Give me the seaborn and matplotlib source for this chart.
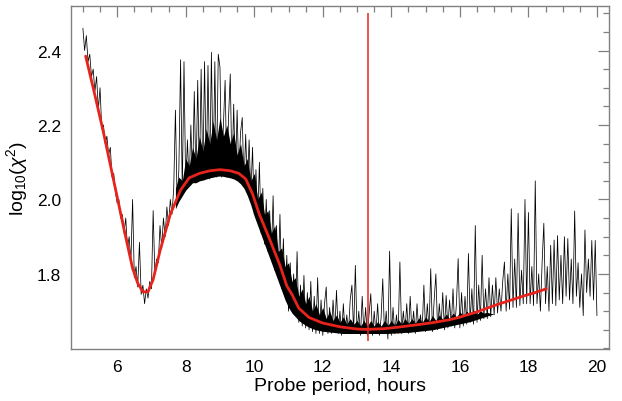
import numpy as np
import pandas as pd
import matplotlib
matplotlib.use("Agg")
import matplotlib.pyplot as plt
import seaborn as sns
from matplotlib.ticker import MultipleLocator

# ---------------- data ----------------
# black (noisy) curve: values on a regular probe-period grid 5.00 .. 20.00 h, step 0.05 h
black_start, black_end = 5.0, 20.0
black_5 = [2.46, 2.40, 2.44, 2.37, 2.39, 2.33, 2.35, 2.29, 2.33, 2.24,
           2.30, 2.19, 2.20, 2.15, 2.17, 2.12, 2.14, 2.06, 2.07, 2.02]
black_6 = [1.99, 2.00, 1.95, 1.96, 1.91, 1.95, 1.87, 1.90, 1.83, 2.00,
           1.79, 1.82, 1.765, 1.885, 1.745, 1.77, 1.72, 1.76, 1.735, 1.78]
black_7 = [1.76, 1.97, 1.80, 1.84, 1.83, 1.93, 1.87, 1.95, 1.90, 1.98,
           1.93, 2.00, 1.96, 2.03, 2.24, 1.99, 2.08, 2.375, 2.02, 2.37]
black_8 = [2.03, 2.16, 2.04, 2.20, 2.05, 2.29, 2.045, 2.32, 2.05, 2.35,
           2.055, 2.37, 2.06, 2.36, 2.055, 2.395, 2.06, 2.37, 2.06, 2.39]
black_9 = [2.355, 2.06, 2.20, 2.32, 2.06, 2.22, 2.337, 2.065, 2.256, 2.06,
           2.24, 2.06, 2.18, 2.22, 2.04, 2.175, 2.03, 2.16, 2.01, 2.14]
black_10 = [1.96, 2.08, 1.94, 2.10, 1.91, 2.03, 1.88, 2.00, 1.86, 1.97,
            1.84, 2.01, 1.81, 1.93, 1.79, 1.96, 1.76, 1.895, 1.74, 1.85]
black_11 = [1.70, 1.83, 1.71, 1.80, 1.69, 1.86, 1.67, 1.77, 1.66, 1.796,
            1.655, 1.75, 1.65, 1.78, 1.645, 1.74, 1.64, 1.79, 1.64, 1.73]
black_12 = [1.635, 1.72, 1.765, 1.64, 1.71, 1.64, 1.73, 1.645, 1.756, 1.64,
            1.70, 1.635, 1.72, 1.64, 1.69, 1.645, 1.73, 1.77, 1.64, 1.823]
black_13 = [1.64, 1.70, 1.635, 1.74, 1.64, 1.71, 1.635, 1.69, 1.747, 1.635,
            1.70, 1.64, 1.72, 1.635, 1.68, 1.787, 1.64, 1.70, 1.625, 1.861]
black_14 = [1.635, 1.71, 1.64, 1.69, 1.64, 1.832, 1.64, 1.70, 1.645, 1.72,
            1.64, 1.74, 1.645, 1.70, 1.64, 1.72, 1.645, 1.69, 1.65, 1.77]
black_15 = [1.645, 1.72, 1.65, 1.814, 1.645, 1.73, 1.80, 1.65, 1.72, 1.655,
            1.75, 1.65, 1.742, 1.655, 1.73, 1.66, 1.76, 1.655, 1.72, 1.841]
black_16 = [1.655, 1.75, 1.66, 1.74, 1.665, 1.855, 1.67, 1.76, 1.665, 1.93,
            1.67, 1.77, 1.675, 1.85, 1.68, 1.76, 1.68, 1.79, 1.685, 1.77]
black_17 = [1.69, 1.79, 1.695, 1.76, 1.70, 1.78, 1.832, 1.70, 1.80, 1.705,
            1.975, 1.71, 1.84, 1.71, 1.963, 1.715, 1.81, 1.72, 2.00, 1.72]
black_18 = [1.965, 1.72, 1.82, 1.715, 2.05, 1.72, 1.80, 1.70, 1.83, 1.936,
            1.72, 1.82, 1.70, 1.877, 1.72, 1.891, 1.715, 1.903, 1.73, 1.85]
black_19 = [1.72, 1.90, 1.74, 1.895, 1.73, 1.84, 1.72, 1.969, 1.74, 1.83,
            1.71, 1.80, 1.688, 1.918, 1.75, 1.84, 1.74, 1.89, 1.73, 1.89]
black_20 = [1.688]

# dense (solid-looking) core of the noisy trace, grid 7.7 .. 17.0 h, step 0.1 h
core_start, core_end = 7.7, 17.0
core_hi = [2.03, 2.06, 2.05,
           2.11, 2.09, 2.14, 2.11, 2.17, 2.13, 2.19, 2.15, 2.21, 2.16,
           2.22, 2.17, 2.20, 2.15, 2.18, 2.12, 2.15, 2.09, 2.11, 2.05,
           2.07, 2.00, 2.02, 1.96, 1.97, 1.91, 1.93, 1.86, 1.87, 1.82,
           1.83, 1.78, 1.79, 1.74, 1.76, 1.72, 1.74, 1.70, 1.72, 1.69,
           1.71, 1.68, 1.70, 1.675, 1.69, 1.67, 1.685, 1.665, 1.68, 1.665,
           1.675, 1.66, 1.675, 1.66, 1.675, 1.66, 1.672, 1.66, 1.675, 1.662,
           1.675, 1.662, 1.678, 1.665, 1.68, 1.667, 1.68, 1.668, 1.682, 1.67,
           1.685, 1.672, 1.688, 1.675, 1.69, 1.678, 1.692, 1.68, 1.695, 1.684,
           1.698, 1.688, 1.70, 1.69, 1.703, 1.692, 1.70, 1.695, 1.697, 1.694,
           1.693]
core_lo = [1.975, 1.995, 2.01,
           2.025, 2.035, 2.045, 2.045, 2.05, 2.052, 2.055, 2.058, 2.06, 2.062,
           2.063, 2.062, 2.06, 2.058, 2.055, 2.05, 2.042, 2.03, 2.01, 1.985,
           1.955, 1.93, 1.905, 1.88, 1.855, 1.83, 1.805, 1.78, 1.755, 1.73,
           1.71, 1.695, 1.685, 1.675, 1.668, 1.662, 1.657, 1.653, 1.65, 1.648,
           1.646, 1.645, 1.644, 1.643, 1.642, 1.641, 1.64, 1.64, 1.64, 1.64,
           1.64, 1.64, 1.64, 1.64, 1.64, 1.64, 1.64, 1.64, 1.64, 1.64,
           1.641, 1.641, 1.642, 1.642, 1.643, 1.643, 1.644, 1.645, 1.646, 1.647,
           1.648, 1.649, 1.65, 1.652, 1.654, 1.656, 1.658, 1.66, 1.662, 1.664,
           1.666, 1.668, 1.67, 1.672, 1.675, 1.678, 1.681, 1.684, 1.687, 1.69,
           1.693]

# red (smoothed) curve
red_x = [5.08, 5.3, 5.6, 5.9, 6.2, 6.45, 6.6, 6.75, 6.9, 7.05, 7.25, 7.55, 7.85,
         8.1, 8.4, 8.7, 9.0, 9.3, 9.55, 9.75, 9.95, 10.15, 10.45, 10.75, 10.95,
         11.1, 11.3, 11.6, 12.0, 12.5, 13.0, 13.3, 13.8, 14.2, 14.8, 15.2, 15.7,
         16.0, 16.5, 17.0, 17.5, 17.9, 18.2, 18.52]
red_y = [2.385, 2.30, 2.18, 2.05, 1.92, 1.815, 1.775, 1.752, 1.752, 1.785, 1.862,
         1.96, 2.025, 2.058, 2.07, 2.077, 2.08, 2.077, 2.07, 2.055, 2.015, 1.96,
         1.893, 1.823, 1.768, 1.745, 1.708, 1.683, 1.668, 1.658, 1.652, 1.651,
         1.653, 1.657, 1.664, 1.669, 1.677, 1.684, 1.698, 1.715, 1.73, 1.742,
         1.75, 1.76]

# vertical marker
marker_x = 13.32
marker_y = [1.62, 2.50]

x_ticks = [6, 8, 10, 12, 14, 16, 18, 20]
y_ticks = [1.8, 2.0, 2.2, 2.4]
x_label = "Probe period, hours"
y_label = r"log$_{10}$($\chi^2$)"

# ---------------- build tables ----------------
black_y = (black_5 + black_6 + black_7 + black_8 + black_9 + black_10 + black_11 +
           black_12 + black_13 + black_14 + black_15 + black_16 + black_17 +
           black_18 + black_19 + black_20)
black_x = np.linspace(black_start, black_end, len(black_y))
core_x = np.linspace(core_start, core_end, len(core_hi))
df_black = pd.DataFrame({"period": black_x, "chi": black_y})
df_red = pd.DataFrame({"period": red_x, "chi": red_y})

# ---------------- style ----------------
sns.set_theme(style="white")
plt.rcParams["font.family"] = ["Liberation Sans", "DejaVu Sans"]
plt.rcParams["mathtext.fontset"] = "custom"
plt.rcParams["mathtext.rm"] = "Liberation Sans"
plt.rcParams["mathtext.it"] = "Liberation Sans:italic"
plt.rcParams["text.color"] = "black"
plt.rcParams["axes.labelcolor"] = "black"

fig = plt.figure(figsize=(6.22, 4.02), dpi=100)
ax = fig.add_axes([0.114, 0.129, 0.865, 0.854])

ax.fill_between(core_x, core_lo, core_hi, color="black", lw=0)
sns.lineplot(data=df_black, x="period", y="chi", color="black", lw=0.55,
             estimator=None, sort=False, ax=ax)
sns.lineplot(data=df_red, x="period", y="chi", color="#e8231c", lw=2.0,
             estimator=None, sort=False, ax=ax)
ax.vlines(marker_x, marker_y[0], marker_y[1], color="#e8231c", lw=1.1)

ax.set_xlim(4.65, 20.35)
ax.set_ylim(1.598, 2.52)
ax.set_xticks(x_ticks)
ax.set_yticks(y_ticks)
ax.set_xticklabels([str(t) for t in x_ticks])
ax.set_yticklabels([f"{t:.1f}" for t in y_ticks])
ax.xaxis.set_minor_locator(MultipleLocator(0.5))
ax.yaxis.set_minor_locator(MultipleLocator(0.05))

ax.tick_params(which="both", direction="in", top=True, right=True,
               color="#808080", width=0.9, labelsize=12.5, labelcolor="black")
ax.tick_params(which="major", length=8, pad=7)
ax.tick_params(which="minor", length=4)
for s in ax.spines.values():
    s.set_color("#808080")
    s.set_linewidth(1.0)

ax.set_xlabel(x_label, fontsize=14, labelpad=2)
ax.set_ylabel(y_label, fontsize=14, labelpad=5)

fig.savefig("out.png", dpi=100)
